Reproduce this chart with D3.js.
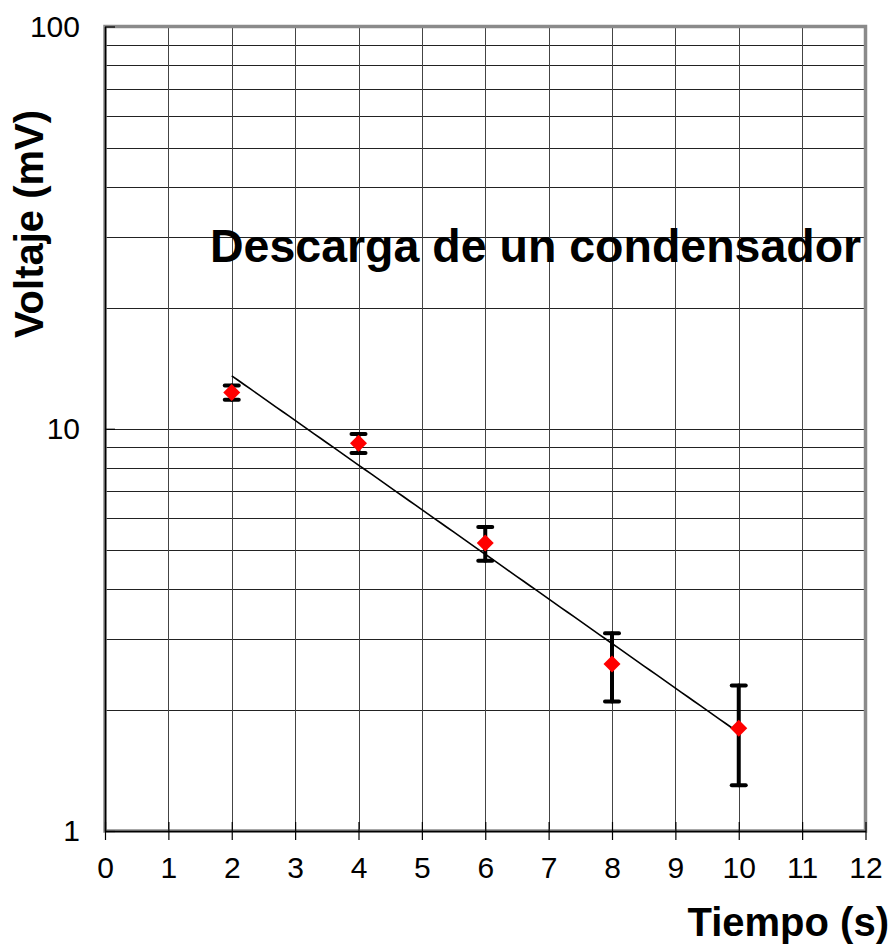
<!DOCTYPE html>
<html>
<head>
<meta charset="utf-8">
<script src="https://cdn.jsdelivr.net/npm/d3@7"></script>
<style>
  html, body { margin: 0; padding: 0; background: #fff; }
  svg { display: block; font-family: Arial, "Liberation Sans", sans-serif; }
  .tick text { font-size: 30px; font-family: Arial, "Liberation Sans", sans-serif; fill: #000; }
</style>
</head>
<body>
<svg id="chart" width="895" height="952"></svg>
<script>
// Measured capacitor discharge: time (s), voltage (mV) and its uncertainty
const tiempo = [2, 4, 6, 8, 10];
const voltaje = [12.3, 9.2, 5.2, 2.6, 1.8];
const incertidumbre = [0.5, 0.5, 0.5, 0.5, 0.5];

const xTicks = [0, 1, 2, 3, 4, 5, 6, 7, 8, 9, 10, 11, 12];
const yTicks = [1, 10, 100];

const titulo = "Descarga de un condensador";
const ejeX = "Tiempo (s)";
const ejeY = "Voltaje (mV)";

const svg = d3.select("#chart");
const plotL = 105, plotR = 865.5, plotT = 26.5, plotB = 831;

const x = d3.scaleLinear().domain([0, 12]).range([plotL, plotR]);
const y = d3.scaleLog().domain([1, 100]).range([plotB, plotT]);

// Gridlines: every integer second, every 1..9 step within each decade
const gridY = [];
for (let d = 1; d < 100; d *= 10) for (let k = 2; k <= 10; k++) gridY.push(k * d);
const grid = svg.append("g");
grid.selectAll("line.h").data(gridY.filter(v => v < 100)).join("line")
  .attr("class", "h")
  .attr("x1", plotL).attr("x2", plotR)
  .attr("y1", d => Math.round(y(d)) + 0.5).attr("y2", d => Math.round(y(d)) + 0.5)
  .attr("stroke", "#222").attr("stroke-width", 1);
grid.selectAll("line.v").data(xTicks.slice(1, -1)).join("line")
  .attr("class", "v")
  .attr("y1", plotT).attr("y2", plotB)
  .attr("x1", d => Math.round(x(d)) + 0.5).attr("x2", d => Math.round(x(d)) + 0.5)
  .attr("stroke", "#444").attr("stroke-width", 1);

// Plot-area frame
svg.append("rect")
  .attr("x", plotL).attr("y", plotT).attr("width", plotR - plotL).attr("height", plotB - plotT)
  .attr("fill", "none").attr("stroke", "#8a8a8a").attr("stroke-width", 3.5);

// Axes
const xAxis = d3.axisBottom(x).tickValues(xTicks).tickFormat(d3.format("d"))
  .tickSizeInner(9).tickSizeOuter(0).tickPadding(17);
const gx = svg.append("g").attr("transform", `translate(0,${plotB})`).call(xAxis);
gx.select(".domain").attr("stroke", "#000").attr("stroke-width", 1.5);
gx.selectAll(".tick line").attr("y1", -9).attr("stroke", "#000").attr("stroke-width", 1.2);

const yAxis = d3.axisLeft(y).tickValues(yTicks).tickFormat(d3.format("d"))
  .tickSizeInner(10).tickSizeOuter(0).tickPadding(15);
const gy = svg.append("g").attr("transform", `translate(${plotL},0)`).call(yAxis);
gy.select(".domain").attr("stroke", "#000").attr("stroke-width", 1.5);
gy.selectAll(".tick line").attr("x2", 10).attr("stroke", "#000").attr("stroke-width", 1.2);

// Exponential trendline: least-squares fit of ln(V) against t
const ln = voltaje.map(Math.log);
const mt = d3.mean(tiempo), ml = d3.mean(ln);
const b = d3.sum(tiempo, (t, i) => (t - mt) * (ln[i] - ml)) / d3.sum(tiempo, t => (t - mt) ** 2);
const a = ml - b * mt;
const tramo = d3.extent(tiempo);
const ajuste = d3.range(tramo[0], tramo[1] + 1e-9, 0.1).map(t => [t, Math.exp(a + b * t)]);
svg.append("path")
  .datum(ajuste)
  .attr("fill", "none").attr("stroke", "#000").attr("stroke-width", 1.6)
  .attr("d", d3.line().x(d => x(d[0])).y(d => y(d[1])));

// Error bars
const puntos = tiempo.map((t, i) => ({ t, v: voltaje[i], e: incertidumbre[i] }));
const barras = svg.append("g").attr("stroke", "#000").attr("stroke-linecap", "round");
barras.selectAll("line.bar").data(puntos).join("line")
  .attr("class", "bar")
  .attr("x1", d => x(d.t)).attr("x2", d => x(d.t))
  .attr("y1", d => y(d.v + d.e)).attr("y2", d => y(d.v - d.e))
  .attr("stroke-width", 4);
["top", "bottom"].forEach(side => {
  barras.selectAll("line.cap-" + side).data(puntos).join("line")
    .attr("class", "cap-" + side)
    .attr("x1", d => x(d.t) - 7).attr("x2", d => x(d.t) + 7)
    .attr("y1", d => y(side === "top" ? d.v + d.e : d.v - d.e))
    .attr("y2", d => y(side === "top" ? d.v + d.e : d.v - d.e))
    .attr("stroke-width", 4);
});

// Red diamond markers
svg.append("g").selectAll("path").data(puntos).join("path")
  .attr("transform", d => `translate(${x(d.t)},${y(d.v)})`)
  .attr("d", "M0,-8.5L8.5,0L0,8.5L-8.5,0Z")
  .attr("fill", "#ff0000");

// Titles
svg.append("text").attr("x", 210).attr("y", 262)
  .attr("font-size", 46.5).attr("font-weight", "bold").attr("fill", "#000")
  .text(titulo);
svg.append("text").attr("x", 889).attr("y", 936).attr("text-anchor", "end")
  .attr("font-size", 40).attr("font-weight", "bold").attr("fill", "#000")
  .text(ejeX);
svg.append("text")
  .attr("transform", "translate(43,224) rotate(-90)")
  .attr("text-anchor", "middle")
  .attr("font-size", 40).attr("font-weight", "bold").attr("fill", "#000")
  .text(ejeY);
</script>
</body>
</html>
